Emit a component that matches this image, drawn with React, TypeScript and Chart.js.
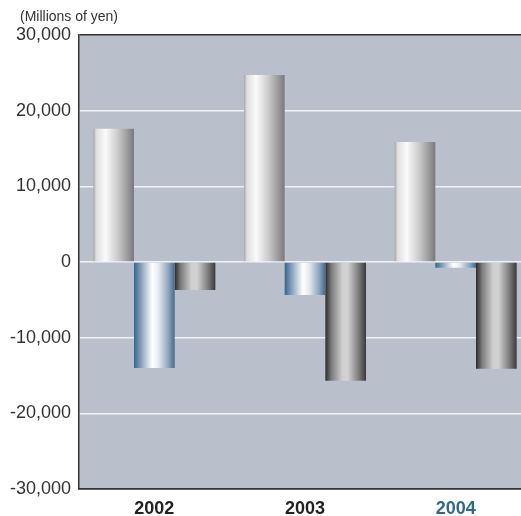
import React, { useEffect, useRef } from "react";
import { Chart, registerables } from "chart.js";

Chart.register(...registerables);

const categories = ["2002", "2003", "2004"];
const seriesA = [17600, 24700, 15850];
const seriesB = [-14000, -4350, -750];
const seriesC = [-3700, -15700, -14100];
const yTicks = [-30000, -20000, -10000, 0, 10000, 20000, 30000];
const unitLabel = "(Millions of yen)";
const labelColors = ["#222222", "#222222", "#2d6a8c"];

const CAT_PCT = 0.81;
const FONT = "'Liberation Sans', Arial, Helvetica, sans-serif";

const stopsA: [number, string][] = [
  [0, "#a4a4a4"],
  [0.07, "#dedede"],
  [0.3, "#fbfbfb"],
  [0.6, "#cbcbcb"],
  [1, "#7a7a7a"],
];
const stopsB: [number, string][] = [
  [0, "#36688a"],
  [0.18, "#8aa3bb"],
  [0.45, "#ffffff"],
  [0.6, "#e6eaf0"],
  [0.85, "#8ea3ba"],
  [1, "#3f6b8e"],
];
const stopsC: [number, string][] = [
  [0, "#2c2c2c"],
  [0.15, "#7c7c7c"],
  [0.42, "#d0d0d0"],
  [0.55, "#d2d2d2"],
  [0.82, "#7c7c7c"],
  [1, "#3a3a3a"],
];

function gradient(stops: [number, string][]) {
  return (c: any) => {
    const chart = c.chart;
    const area = chart.chartArea;
    if (!area || c.dataIndex === undefined) return stops[2][1];
    const xs = chart.scales.x;
    const catW = (area.right - area.left) / categories.length;
    const barW = (catW * CAT_PCT) / 3;
    const center = xs.getPixelForValue(c.dataIndex);
    const x0 = center - 1.5 * barW + c.datasetIndex * barW;
    const g = chart.ctx.createLinearGradient(x0, 0, x0 + barW, 0);
    stops.forEach(([o, col]) => g.addColorStop(o, col));
    return g;
  };
}

const bgPlugin = {
  id: "plotBg",
  beforeDraw(chart: any) {
    const { ctx, chartArea } = chart;
    ctx.save();
    ctx.fillStyle = "#b9bfcb";
    ctx.fillRect(chartArea.left, chartArea.top, chartArea.right - chartArea.left, chartArea.bottom - chartArea.top);
    ctx.restore();
  },
  afterDraw(chart: any) {
    const { ctx } = chart;
    ctx.save();
    ctx.fillStyle = "#333333";
    ctx.font = `14px ${FONT}`;
    ctx.textBaseline = "middle";
    ctx.textAlign = "left";
    ctx.fillText(unitLabel, 20, 17);
    ctx.restore();
  },
};

export default function App() {
  const ref = useRef<HTMLCanvasElement>(null);
  useEffect(() => {
    if (!ref.current) return;
    const chart = new Chart(ref.current, {
      type: "bar",
      data: {
        labels: categories,
        datasets: [
          { data: seriesA, backgroundColor: gradient(stopsA) as any, borderWidth: 0 },
          { data: seriesB, backgroundColor: gradient(stopsB) as any, borderWidth: 0 },
          { data: seriesC, backgroundColor: gradient(stopsC) as any, borderWidth: 0 },
        ],
      },
      options: {
        responsive: false,
        animation: false,
        layout: { padding: { left: 0, top: 35, right: 0, bottom: 0 } },
        plugins: { legend: { display: false }, tooltip: { enabled: false }, title: { display: false } },
        datasets: { bar: { categoryPercentage: CAT_PCT, barPercentage: 1 } },
        scales: {
          x: {
            grid: { display: false, drawTicks: false },
            border: { display: true, color: "#333333", width: 1.5 },
            ticks: {
              padding: 9,
              font: { family: FONT, size: 18, weight: "bold" },
              color: (c: any) => labelColors[c.index] || "#222222",
            },
            afterFit: (s: any) => {
              s.height = 27;
            },
          },
          y: {
            min: yTicks[0],
            max: yTicks[yTicks.length - 1],
            afterBuildTicks: (s: any) => {
              s.ticks = yTicks.map((v) => ({ value: v }));
            },
            grid: {
              drawTicks: false,
              color: (c: any) =>
                c.tick && (c.tick.value === 30000 || c.tick.value === -30000) ? "#333333" : "#f1f2f5",
              lineWidth: 1.5,
            },
            border: { display: true, color: "#333333", width: 1.5 },
            ticks: {
              padding: 8,
              font: { family: FONT, size: 18 },
              color: "#333333",
              callback: (v: any) => Number(v).toLocaleString("en-US"),
            },
            afterFit: (s: any) => {
              s.width = 79;
            },
          },
        },
      },
      plugins: [bgPlugin],
    });
    return () => chart.destroy();
  }, []);
  return (
    <div style={{ position: "absolute", left: 0, top: 0, width: 521, height: 516, overflow: "hidden", background: "#ffffff" }}>
      <canvas ref={ref} width={531} height={516} style={{ display: "block" }} />
    </div>
  );
}
